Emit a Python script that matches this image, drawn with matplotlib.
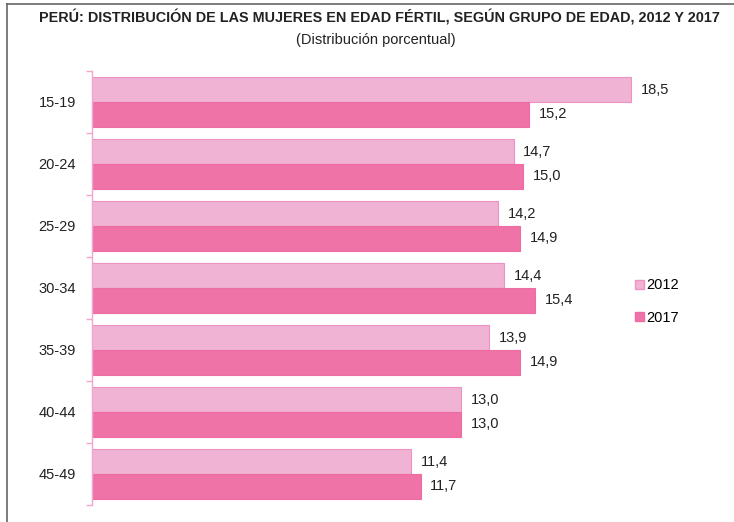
import numpy as np
import matplotlib
matplotlib.use('Agg')
from matplotlib import pyplot as plt
from matplotlib.patches import Patch
from matplotlib.lines import Line2D

# Data.
grupos = ['15-19', '20-24', '25-29', '30-34', '35-39', '40-44', '45-49']
v2012 = [18.5, 14.7, 14.2, 14.4, 13.9, 13.0, 11.4]
v2017 = [15.2, 15.0, 14.9, 15.4, 14.9, 13.0, 11.7]
series = ['2012', '2017']

c2012, e2012 = '#F0B3D3', '#EC93C3'
c2017, e2017 = '#F073A8', '#EE6CA2'
pink_axis = '#F2A6CC'

plt.rcParams['font.family'] = ['Liberation Sans', 'DejaVu Sans']

fig = plt.figure(figsize=(7.34, 5.22), dpi=100)
ax = fig.add_axes([0.1253, 0.0326, 0.8406, 0.8314])

y = np.arange(len(grupos))
h = 0.4
b1 = ax.barh(y - h / 2, v2012, h, color=c2012, edgecolor=e2012, linewidth=0.8)
b2 = ax.barh(y + h / 2, v2017, h, color=c2017, edgecolor=e2017, linewidth=0.8)

# Value labels with comma decimal.
for bars, vals in ((b1, v2012), (b2, v2017)):
    for r, v in zip(bars, vals):
        ax.annotate(f'{v:.1f}'.replace('.', ','), (v, r.get_y() + r.get_height() / 2),
                    xytext=(7, 0), textcoords='offset points', va='center', ha='left',
                    fontsize=10.5, color='#222222')

ax.set_xlim(1.1, 21)
ax.set_ylim(6.5, -0.5)
ax.set_xticks([])

# Boundary ticks and centered category labels.
ax.set_yticks(np.arange(-0.5, 7, 1.0))
ax.set_yticklabels([])
ax.set_yticks(y, minor=True)
ax.set_yticklabels(grupos, minor=True, fontsize=10.5, color='#222222')
ax.tick_params(axis='y', which='major', length=4, color=pink_axis, width=1)
ax.tick_params(axis='y', which='minor', length=0, pad=11.5)

for s in ['top', 'right', 'bottom']:
    ax.spines[s].set_visible(False)
ax.spines['left'].set_color(pink_axis)
ax.spines['left'].set_linewidth(1)

# Legend.
handles = [Patch(facecolor=c2012, edgecolor=e2012), Patch(facecolor=c2017, edgecolor=e2017)]
fig.legend(handles, series, loc='center left', bbox_to_anchor=(0.847, 0.4224), frameon=False,
           fontsize=10.5, handlelength=0.6, handleheight=0.6, handletextpad=0.2, labelspacing=1.25)

# Titles.
fig.text(0.517, 0.966, 'PERÚ: DISTRIBUCIÓN DE LAS MUJERES EN EDAD FÉRTIL, SEGÚN GRUPO DE EDAD, 2012 Y 2017',
         ha='center', va='center', fontsize=10.4, fontweight='bold', color='#222222')
fig.text(0.512, 0.924, '(Distribución porcentual)', ha='center', va='center', fontsize=10.5, color='#222222')

# Frame lines at top and left.
fig.add_artist(Line2D([0.0095, 1.0], [0.992, 0.992], color='#666666', linewidth=1.2, transform=fig.transFigure))
fig.add_artist(Line2D([0.0095, 0.0095], [0.0, 0.992], color='#666666', linewidth=1.2, transform=fig.transFigure))

fig.savefig('out.png', dpi=100)
